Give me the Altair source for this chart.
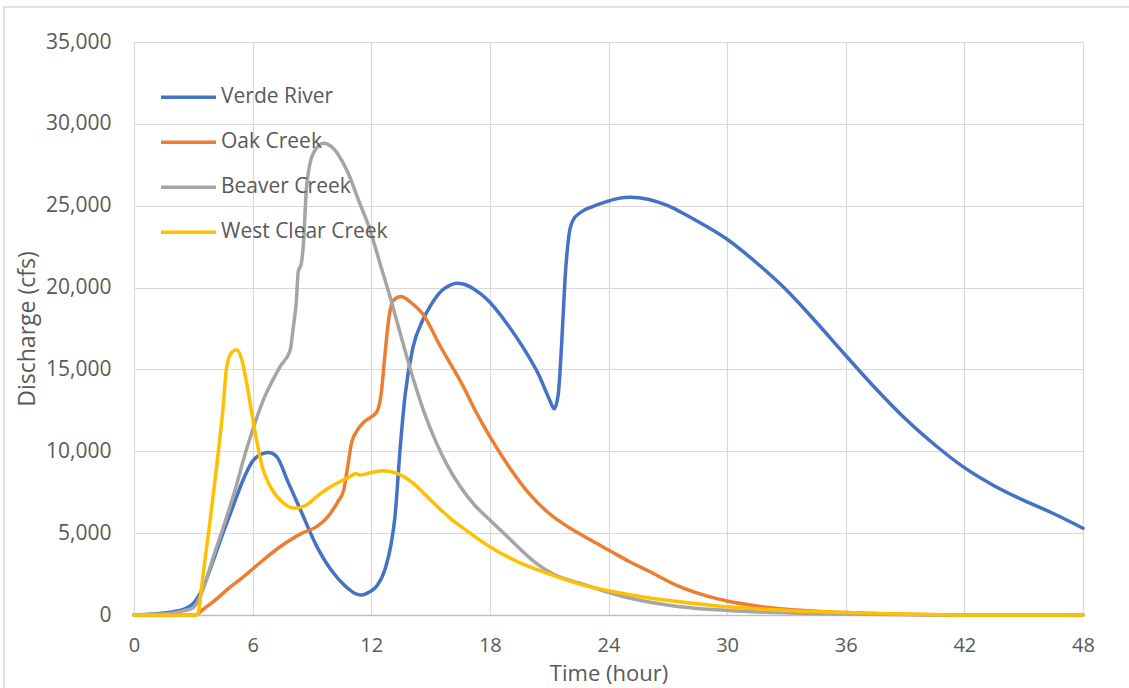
import altair as alt
import pandas as pd

series_names = ["Verde River", "Oak Creek", "Beaver Creek", "West Clear Creek"]
series_colors = ["#4472C4", "#ED7D31", "#A5A5A5", "#FFC000"]

verde_t = [0, 1, 2, 2.5, 3, 3.5, 4, 4.5, 5, 5.5, 6, 6.5, 6.8, 7.2, 7.8, 8.5, 9.2, 10, 10.7, 11.2, 11.5,
           11.9, 12.3, 12.7, 13.0, 13.2, 13.45, 13.7, 14.1, 14.6, 15.0, 15.6, 16.0, 16.3, 16.7, 17.2, 17.6,
           18.0, 18.8, 19.7, 20.5, 21.0, 21.25, 21.45, 21.65, 21.8, 22.0, 22.2, 22.6, 23.2, 23.9, 24.5,
           25.1, 26, 27, 27.6, 28.5, 30, 31.5, 33, 34.5, 36, 37.5, 39, 40.5, 42, 43.5, 45, 46.5, 48]
verde_q = [0, 60, 200, 350, 700, 1700, 3300, 5000, 6600, 8200, 9400, 9850, 9920, 9700, 8100, 6200, 4300,
           2700, 1750, 1300, 1220, 1400, 1800, 2800, 4300, 6000, 10000, 13300, 16300, 18000, 18900, 19850,
           20150, 20270, 20200, 19900, 19550, 19100, 17900, 16300, 14600, 13200, 12600, 13400, 17000,
           20500, 23200, 24100, 24600, 24950, 25250, 25450, 25520, 25400, 25000, 24650, 24050, 22950,
           21500, 19850, 17900, 15850, 13850, 12000, 10400, 9000, 7900, 7000, 6200, 5300]

oak_t = [0, 3.1, 3.5, 4, 4.86, 5.5, 6.54, 7.2, 7.9, 8.5, 9.24, 9.8, 10.3, 10.6, 10.8, 11.0, 11.3, 11.6,
         12.0, 12.3, 12.5, 12.7, 12.9, 13.1, 13.5, 14.0, 14.6, 15.5, 16.66, 17.3, 18.0, 19.0, 20.0, 21.0,
         22.0, 22.56, 23.4, 24.25, 25, 26, 27.6, 29, 30, 31.5, 33, 36, 39, 42, 48]
oak_q = [0, 0, 350, 800, 1700, 2300, 3360, 4000, 4580, 5000, 5400, 6000, 6900, 7600, 9000, 10500, 11300,
         11750, 12100, 12450, 13500, 16000, 18200, 19200, 19450, 19100, 18400, 16400, 13950, 12400,
         10900, 9000, 7400, 6200, 5350, 4950, 4380, 3800, 3300, 2700, 1730, 1150, 850, 550, 350, 150, 40,
         0, 0]

beaver_t = [0, 1, 2, 2.5, 3, 3.5, 4, 4.69, 5.2, 5.53, 6, 6.54, 7, 7.39, 7.9, 8.06, 8.2, 8.31, 8.45, 8.56,
            8.73, 9.07, 9.58, 10.0, 10.76, 11.4, 11.94, 12.44, 12.95, 13.5, 14.13, 14.7, 15.3, 15.8, 16.5,
            17.2, 18.0, 19.0, 20.0, 20.3, 21.2, 22.56, 25.1, 27.6, 30, 33, 36, 39, 42, 48]
beaver_q = [0, 40, 130, 250, 450, 1600, 3500, 6000, 8000, 9470, 11300, 13130, 14300, 15170, 16190, 17600,
            19000, 21000, 21400, 22500, 26160, 28200, 28810, 28600, 27180, 25200, 23520, 21480, 19440,
            17050, 14400, 12300, 10500, 9250, 7850, 6750, 5800, 4650, 3500, 3200, 2500, 1940, 1020, 510,
            280, 130, 60, 20, 0, 0]

wcc_t = [0, 3.2, 3.5, 3.8, 4.18, 4.5, 4.69, 4.95, 5.19, 5.45, 5.7, 5.95, 6.2, 6.5, 6.9, 7.5, 8.14, 8.7,
         9.24, 9.9, 10.59, 11.0, 11.2, 11.43, 12.0, 12.6, 13.3, 14.13, 15.0, 16.0, 17.0, 18.0, 19.5, 20.9,
         22.5, 24.25, 26, 27.6, 30, 33, 36, 39, 41, 42, 48]
wcc_q = [0, 0, 2500, 5300, 9060, 12600, 15170, 16050, 16200, 15600, 14150, 12400, 10690, 9000, 7840,
         6900, 6520, 6700, 7230, 7800, 8250, 8500, 8650, 8550, 8700, 8810, 8650, 8040, 7020, 5900, 5000,
         4170, 3200, 2550, 1900, 1420, 1050, 810, 500, 280, 150, 50, 10, 0, 0]

x_ticks = [0, 6, 12, 18, 24, 30, 36, 42, 48]
y_ticks = [0, 5000, 10000, 15000, 20000, 25000, 30000, 35000]

rows = []
for name, ts, qs in zip(series_names, [verde_t, oak_t, beaver_t, wcc_t], [verde_q, oak_q, beaver_q, wcc_q]):
    for i, (t, q) in enumerate(zip(ts, qs)):
        rows.append({"series": name, "t": t, "q": q, "i": i})
df = pd.DataFrame(rows)

FONT = "Open Sans"
TXT = "#595959"

color = alt.Color(
    "series:N",
    scale=alt.Scale(domain=series_names, range=series_colors),
    legend=alt.Legend(
        orient="none", legendX=25, legendY=33, title=None,
        symbolType="stroke", symbolSize=3025, symbolStrokeWidth=3.5,
        labelFontSize=21, labelColor=TXT, labelFont=FONT, labelOffset=3, labelLimit=0,
        clipHeight=44.5, rowPadding=0, padding=0,
    ),
)

x = alt.X("t:Q", scale=alt.Scale(domain=[0, 48], nice=False),
          axis=alt.Axis(values=x_ticks, title="Time (hour)", domainColor="#bfbfbf", domainWidth=1.5,
                        labelFlush=False, labelFontSize=20, labelPadding=20, titleFontSize=22,
                        titlePadding=8))
y = alt.Y("q:Q", scale=alt.Scale(domain=[0, 35000], nice=False),
          axis=alt.Axis(values=y_ticks, format=",.0f", title="Discharge (cfs)", domainColor="#d9d9d9",
                        labelPadding=23, titlePadding=6))

layers = []
for name in series_names:
    layers.append(
        alt.Chart(df).transform_filter(alt.datum.series == name)
        .mark_line(interpolate="monotone", strokeWidth=3.5, strokeCap="round", strokeJoin="round")
        .encode(x=x, y=y, color=color, order="i:Q")
    )

border = alt.Chart(pd.DataFrame({"k": [0]})).mark_rect(
    fill="transparent", stroke="#d9d9d9", strokeWidth=1.5
).encode(x=alt.value(-130), x2=alt.value(1040), y=alt.value(-35), y2=alt.value(700))

chart = alt.layer(border, *layers).properties(
    width=949, height=573,
    background="white",
    autosize=alt.AutoSizeParams(type="none"),
    padding={"left": 134, "top": 42, "right": 46, "bottom": 73},
).configure_view(stroke=None).configure_axis(
    grid=True, gridColor="#d9d9d9", gridWidth=1.2, ticks=False, tickSize=0,
    labelFont=FONT, labelFontSize=21, labelColor=TXT,
    titleFont=FONT, titleFontSize=23, titleColor=TXT, titleFontWeight="normal",
)

chart.save("out.html", embed_options={"renderer": "svg", "actions": False})
